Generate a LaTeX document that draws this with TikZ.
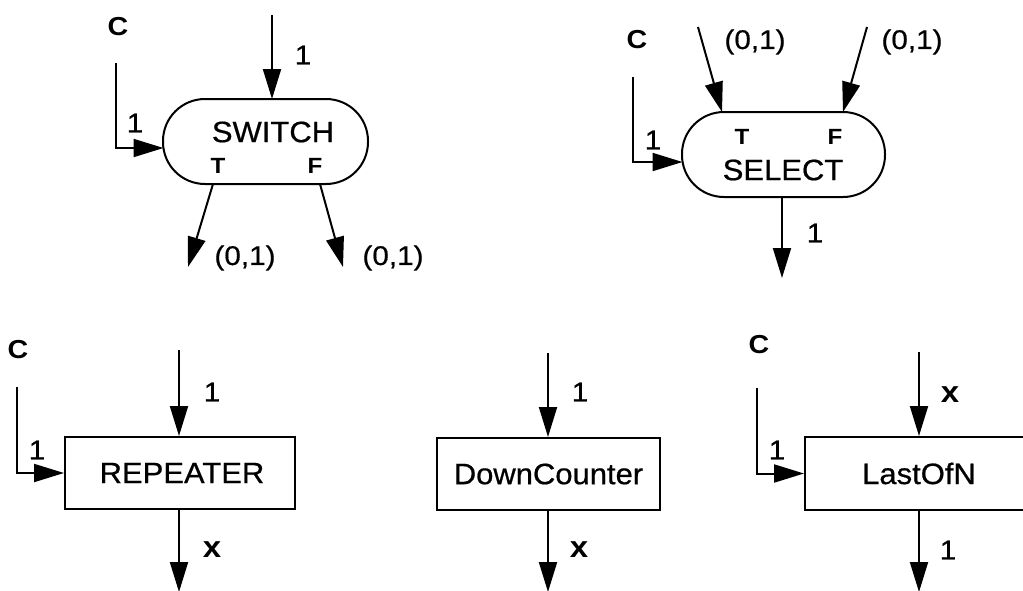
\documentclass[tikz,border=0pt]{standalone}
\usepackage{fontspec}
\setmainfont{Liberation Sans}
\newfontfamily\namefont[FakeStretch=1.05,FakeBold=0.6]{Liberation Sans}
\newfontfamily\labfont[FakeStretch=1.1,FakeBold=0.6]{Liberation Sans}
\newfontfamily\labbfont[FakeStretch=1.1]{Liberation Sans Bold}
\usetikzlibrary{arrows.meta,calc}
\begin{document}
\begin{tikzpicture}[x=1pt,y=-1pt,
  blk/.style={draw,line width=2pt,inner sep=0pt},
  arr/.style={line width=2pt,-{Triangle[length=30pt,width=18pt]}},
  bigname/.style={inner sep=0pt,font=\namefont\fontsize{29.5}{34}\selectfont},
  lab/.style={inner sep=0pt,font=\labfont\fontsize{27}{32}\selectfont},
  labx/.style={inner sep=0pt,font=\labbfont\fontsize{30}{34}\selectfont},
  cl/.style={inner sep=0pt,font=\labbfont\fontsize{26}{30}\selectfont},
  tf/.style={inner sep=0pt,font=\labbfont\fontsize{22}{26}\selectfont}]
\clip (0,0) rectangle (1023,590);
\fill[white] (0,0) rectangle (1023,590);

% ---------- SWITCH ----------
\node[blk,minimum width=205pt,minimum height=85pt,rounded corners=42pt] (sw) at (265.5,141.5) {};
\node[bigname] (swt) at (273,132) {SWITCH};
\node[tf] (swT) at (218,166) {T};
\node[tf] (swF) at (315,166) {F};
\coordinate (swin) at (272,15);
\coordinate (swintip) at (272,99);
\draw[arr] (swin) -- (swintip);
\node[lab] (swl1) at (303,55) {1};
\node[cl] (swC) at (118,27) {C};
\coordinate (swc) at (116,63);
\coordinate (swctip) at (163.5,148);
\draw[arr] (swc) |- (swctip);
\node[lab] (swl2) at (135,123) {1};
\coordinate (swTs) at (213,184);
\coordinate (swTe) at (188,267);
\coordinate (swFs) at (320,184);
\coordinate (swFe) at (343,267);
\draw[arr] (swTs) -- (swTe);
\draw[arr] (swFs) -- (swFe);
\node[lab] (swo1) at (245,258) {(0,1)};
\node[lab] (swo2) at (393,258) {(0,1)};

% ---------- SELECT ----------
\node[blk,minimum width=203pt,minimum height=85pt,rounded corners=42pt] (se) at (783.5,154.5) {};
\node[bigname] (set) at (783,170) {SELECT};
\node[tf] (seT) at (742,137) {T};
\node[tf] (seF) at (835,137) {F};
\coordinate (seTs) at (698,27);
\coordinate (seTe) at (722,112);
\coordinate (seFs) at (867,27);
\coordinate (seFe) at (843,112);
\draw[arr] (seTs) -- (seTe);
\draw[arr] (seFs) -- (seFe);
\node[lab] (sei1) at (755,42) {(0,1)};
\node[lab] (sei2) at (912,42) {(0,1)};
\node[cl] (seC) at (637,40) {C};
\coordinate (sec) at (633,77);
\coordinate (sectip) at (682.5,162);
\draw[arr] (sec) |- (sectip);
\node[lab] (sel2) at (653,140) {1};
\coordinate (seout) at (782,278);
\draw[arr] (se.south -| seout) -- (seout);
\node[lab] (sel1) at (815,233) {1};

% ---------- REPEATER ----------
\node[blk,minimum width=230pt,minimum height=72pt] (rp) at (180,473) {};
\node[bigname] (rpt) at (182,473) {REPEATER};
\coordinate (rpin) at (179,350);
\draw[arr] (rpin) -- (rpin |- rp.north);
\node[lab] (rpl1) at (212,392) {1};
\node[cl] (rpC) at (18,350) {C};
\coordinate (rpc) at (17,387);
\draw[arr] (rpc) |- (rp.west);
\node[lab] (rpl2) at (37,450) {1};
\coordinate (rpout) at (179,592);
\draw[arr] (rpout |- rp.south) -- (rpout);
\node[labx] (rpx) at (212,550) {x};

% ---------- DownCounter ----------
\node[blk,minimum width=223pt,minimum height=72pt] (dc) at (548.5,474) {};
\node[bigname] (dct) at (548.5,474) {DownCounter};
\coordinate (dcin) at (548,353);
\draw[arr] (dcin) -- (dcin |- dc.north);
\node[lab] (dcl1) at (580,392) {1};
\coordinate (dcout) at (548,592);
\draw[arr] (dcout |- dc.south) -- (dcout);
\node[labx] (dcx) at (579,550) {x};

% ---------- LastOfN ----------
\node[blk,minimum width=228pt,minimum height=73pt] (lo) at (919,473.5) {};
\node[bigname] (lot) at (919,473.5) {LastOfN};
\coordinate (loin) at (919,352);
\draw[arr] (loin) -- (loin |- lo.north);
\node[labx] (lox) at (950,395) {x};
\node[cl] (loC) at (759,345) {C};
\coordinate (loc) at (757,388);
\draw[arr] (loc) |- (lo.west);
\node[lab] (lol2) at (777,450) {1};
\coordinate (loout) at (919,592);
\draw[arr] (loout |- lo.south) -- (loout);
\node[lab] (lol1) at (948,550) {1};
\end{tikzpicture}
\end{document}
